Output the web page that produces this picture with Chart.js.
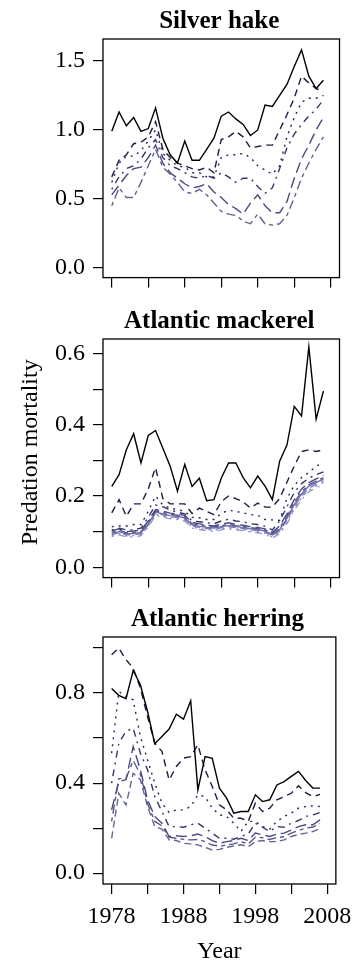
<!DOCTYPE html>
<html lang="en">
<head>
    <meta charset="UTF-8">
    <title>Predation mortality</title>
    <style>
        body {
            margin: 0;
            background-color: #ffffff;
            width: 360px;
            height: 961px;
            position: relative;
            overflow: hidden;
        }
        canvas {
            position: absolute;
            left: 0;
        }
    </style>
</head>
<body>
    <canvas id="hakeChart" width="360" height="300" style="top:0px"></canvas>
    <canvas id="mackChart" width="360" height="300" style="top:300px"></canvas>
    <canvas id="herrChart" width="360" height="363" style="top:598px"></canvas>

    <script src="https://cdn.jsdelivr.net/npm/chart.js"></script>
    <script>
        // Years on the x axis
        var years = [1978, 1979, 1980, 1981, 1982, 1983, 1984, 1985, 1986, 1987,
                     1988, 1989, 1990, 1991, 1992, 1993, 1994, 1995, 1996, 1997,
                     1998, 1999, 2000, 2001, 2002, 2003, 2004, 2005, 2006, 2007];
        var xTicks = [1978, 1983, 1988, 1993, 1998, 2003, 2008];
        var xLabels = [1978, 1988, 1998, 2008];

        // Silver hake
        var hake1 = [0.99, 1.13, 1.03, 1.09, 0.99, 1.01, 1.16, 0.94, 0.82, 0.76, 0.92, 0.78, 0.78, 0.86, 0.94, 1.10, 1.13, 1.08, 1.04, 0.96, 1.00, 1.18, 1.17, 1.25, 1.33, 1.46, 1.58, 1.39, 1.30, 1.36];
        var hake2 = [0.66, 0.78, 0.82, 0.90, 0.91, 0.95, 1.06, 0.86, 0.80, 0.76, 0.74, 0.72, 0.71, 0.73, 0.69, 0.93, 0.95, 0.99, 0.95, 0.87, 0.88, 0.89, 0.89, 1.00, 1.11, 1.23, 1.39, 1.34, 1.30, 1.28];
        var hake3 = [0.62, 0.76, 0.81, 0.81, 0.85, 0.92, 1.00, 0.83, 0.78, 0.74, 0.73, 0.69, 0.69, 0.66, 0.66, 0.80, 0.82, 0.82, 0.83, 0.80, 0.74, 0.71, 0.68, 0.74, 0.95, 1.09, 1.20, 1.23, 1.23, 1.25];
        var hake4 = [0.57, 0.66, 0.72, 0.74, 0.79, 0.87, 0.93, 0.80, 0.74, 0.72, 0.69, 0.66, 0.65, 0.67, 0.65, 0.69, 0.66, 0.62, 0.65, 0.65, 0.59, 0.54, 0.58, 0.72, 0.87, 0.97, 1.04, 1.10, 1.15, 1.22];
        var hake5 = [0.53, 0.60, 0.67, 0.72, 0.73, 0.80, 0.89, 0.76, 0.69, 0.65, 0.61, 0.58, 0.59, 0.61, 0.55, 0.51, 0.46, 0.43, 0.39, 0.47, 0.53, 0.45, 0.40, 0.40, 0.48, 0.65, 0.79, 0.89, 1.00, 1.09];
        var hake6 = [0.45, 0.58, 0.51, 0.51, 0.62, 0.74, 0.86, 0.73, 0.68, 0.62, 0.55, 0.54, 0.57, 0.53, 0.47, 0.41, 0.39, 0.38, 0.34, 0.32, 0.39, 0.32, 0.31, 0.32, 0.38, 0.51, 0.65, 0.76, 0.86, 0.95];

        // Atlantic mackerel
        var mack1 = [0.227, 0.26, 0.33, 0.375, 0.293, 0.37, 0.384, 0.334, 0.284, 0.214, 0.289, 0.227, 0.25, 0.187, 0.19, 0.25, 0.293, 0.293, 0.252, 0.223, 0.256, 0.228, 0.19, 0.298, 0.343, 0.452, 0.425, 0.619, 0.416, 0.495];
        var mack2 = [0.153, 0.19, 0.143, 0.178, 0.178, 0.22, 0.28, 0.193, 0.178, 0.178, 0.178, 0.151, 0.166, 0.157, 0.148, 0.184, 0.20, 0.193, 0.184, 0.166, 0.18, 0.169, 0.169, 0.193, 0.239, 0.284, 0.325, 0.33, 0.325, 0.33];
        var mack3 = [0.114, 0.116, 0.116, 0.12, 0.12, 0.157, 0.20, 0.175, 0.166, 0.162, 0.157, 0.14, 0.139, 0.134, 0.134, 0.151, 0.16, 0.157, 0.153, 0.148, 0.146, 0.134, 0.133, 0.132, 0.193, 0.23, 0.252, 0.266, 0.284, 0.293];
        var mack4 = [0.105, 0.11, 0.105, 0.105, 0.11, 0.14, 0.175, 0.17, 0.16, 0.155, 0.15, 0.13, 0.128, 0.125, 0.122, 0.13, 0.135, 0.13, 0.128, 0.122, 0.12, 0.115, 0.105, 0.13, 0.17, 0.21, 0.235, 0.25, 0.26, 0.268];
        var mack5 = [0.102, 0.108, 0.100, 0.102, 0.104, 0.130, 0.162, 0.158, 0.152, 0.150, 0.146, 0.126, 0.122, 0.118, 0.116, 0.121, 0.125, 0.120, 0.118, 0.114, 0.112, 0.108, 0.098, 0.116, 0.150, 0.190, 0.220, 0.238, 0.248, 0.258];
        var mack6 = [0.098, 0.104, 0.097, 0.098, 0.100, 0.126, 0.158, 0.154, 0.149, 0.146, 0.142, 0.122, 0.119, 0.115, 0.113, 0.117, 0.120, 0.117, 0.115, 0.111, 0.109, 0.105, 0.094, 0.110, 0.143, 0.182, 0.212, 0.232, 0.242, 0.252];
        var mack7 = [0.095, 0.100, 0.094, 0.095, 0.097, 0.122, 0.155, 0.150, 0.145, 0.143, 0.139, 0.119, 0.115, 0.112, 0.110, 0.114, 0.117, 0.114, 0.112, 0.108, 0.106, 0.102, 0.091, 0.106, 0.137, 0.176, 0.206, 0.228, 0.238, 0.248];
        var mack8 = [0.092, 0.097, 0.091, 0.092, 0.094, 0.119, 0.152, 0.147, 0.142, 0.140, 0.136, 0.116, 0.112, 0.109, 0.107, 0.111, 0.114, 0.111, 0.109, 0.105, 0.103, 0.099, 0.088, 0.102, 0.132, 0.170, 0.200, 0.222, 0.233, 0.243];
        var mack9 = [0.089, 0.094, 0.088, 0.089, 0.091, 0.116, 0.149, 0.144, 0.139, 0.137, 0.133, 0.113, 0.109, 0.106, 0.104, 0.108, 0.111, 0.108, 0.106, 0.102, 0.100, 0.096, 0.085, 0.098, 0.127, 0.165, 0.195, 0.217, 0.228, 0.238];
        var mack10 = [0.086, 0.091, 0.085, 0.086, 0.088, 0.113, 0.146, 0.141, 0.136, 0.134, 0.130, 0.110, 0.106, 0.103, 0.101, 0.105, 0.108, 0.105, 0.103, 0.099, 0.097, 0.093, 0.082, 0.094, 0.122, 0.160, 0.190, 0.212, 0.223, 0.232];

        // Atlantic herring
        var herr1 = [0.82, 0.79, 0.775, 0.90, 0.837, 0.718, 0.575, 0.607, 0.64, 0.706, 0.684, 0.766, 0.37, 0.518, 0.51, 0.378, 0.333, 0.267, 0.274, 0.274, 0.348, 0.318, 0.326, 0.392, 0.407, 0.43, 0.452, 0.412, 0.378, 0.378];
        var herr2 = [0.97, 1.0, 0.948, 0.911, 0.822, 0.696, 0.578, 0.541, 0.414, 0.474, 0.511, 0.518, 0.57, 0.459, 0.385, 0.304, 0.281, 0.244, 0.244, 0.23, 0.311, 0.274, 0.289, 0.326, 0.34, 0.355, 0.388, 0.358, 0.34, 0.35];
        var herr3 = [0.533, 0.807, 0.785, 0.77, 0.607, 0.503, 0.40, 0.311, 0.27, 0.281, 0.281, 0.296, 0.348, 0.34, 0.289, 0.259, 0.252, 0.222, 0.185, 0.23, 0.23, 0.207, 0.196, 0.23, 0.252, 0.267, 0.289, 0.296, 0.299, 0.296];
        var herr4 = [0.40, 0.577, 0.63, 0.644, 0.533, 0.459, 0.34, 0.274, 0.207, 0.207, 0.204, 0.215, 0.222, 0.20, 0.178, 0.155, 0.155, 0.151, 0.163, 0.174, 0.222, 0.204, 0.185, 0.207, 0.204, 0.222, 0.234, 0.252, 0.259, 0.27];
        var herr5 = [0.281, 0.407, 0.415, 0.563, 0.459, 0.326, 0.252, 0.222, 0.163, 0.166, 0.163, 0.166, 0.174, 0.163, 0.145, 0.133, 0.14, 0.145, 0.155, 0.145, 0.178, 0.17, 0.163, 0.174, 0.178, 0.192, 0.207, 0.215, 0.215, 0.237];
        var herr6 = [0.23, 0.42, 0.42, 0.50, 0.44, 0.31, 0.23, 0.21, 0.16, 0.155, 0.15, 0.148, 0.15, 0.14, 0.125, 0.12, 0.125, 0.13, 0.14, 0.13, 0.16, 0.158, 0.15, 0.158, 0.162, 0.178, 0.19, 0.20, 0.205, 0.22];
        var herr7 = [0.155, 0.355, 0.303, 0.444, 0.415, 0.296, 0.207, 0.196, 0.148, 0.145, 0.133, 0.13, 0.126, 0.115, 0.103, 0.106, 0.115, 0.121, 0.126, 0.118, 0.14, 0.145, 0.14, 0.14, 0.148, 0.163, 0.172, 0.178, 0.185, 0.198];

        // Line types (R lty cycle: solid, dashed, dotted, dotdash, longdash, twodash)
        var dashes = [[], [7, 5], [2, 5], [2, 5, 7, 5], [11, 5], [4, 4, 9, 4], [], [7, 5], [2, 5], [2, 5, 7, 5]];
        var herrDashes = [[], [7, 5], [2, 5], [2, 5, 7, 5], [11, 5], [4, 4, 9, 4], [7, 4]];

        Chart.defaults.font.family = "'Liberation Serif', 'Times New Roman', serif";
        Chart.defaults.font.size = 24;
        Chart.defaults.color = '#000000';

        // Box, panel title and axis titles
        var panelText = {
            id: 'panelText',
            afterDraw: function(chart, args, opts) {
                var ctx = chart.ctx;
                var a = chart.chartArea;
                ctx.save();
                ctx.strokeStyle = '#000000';
                ctx.lineWidth = 1.3;
                ctx.strokeRect(a.left, a.top, a.right - a.left, a.bottom - a.top);
                ctx.fillStyle = '#000000';
                ctx.font = "bold 25px 'Liberation Serif', serif";
                ctx.textAlign = 'center';
                ctx.textBaseline = 'alphabetic';
                ctx.fillText(opts.title, (a.left + a.right) / 2 - 2, a.top - 11);
                ctx.font = "24px 'Liberation Serif', serif";
                if (opts.yTitle) {
                    ctx.save();
                    ctx.translate(31, (a.top + a.bottom) / 2 - 6);
                    ctx.rotate(-Math.PI / 2);
                    ctx.textBaseline = 'middle';
                    ctx.fillText(opts.yTitle, 0, 0);
                    ctx.restore();
                }
                if (opts.xTitle) {
                    ctx.fillText(opts.xTitle, (a.left + a.right) / 2, chart.height - 3);
                }
                ctx.restore();
            }
        };

        // dark navy steps; lighter ones are added per panel
        function makeColors(n, last) {
            var base = ['#000000', '#1b1b45', '#25255c', '#35356c', '#4a4a80'];
            return base.concat(last).slice(0, n);
        }

        function makePanel(id, title, series, colors, lineDash, yMin, yMax, yTicks, yShown, showX, yTitle, xTitle) {
            var datasets = series.map(function(s, i) {
                return {
                    data: years.map(function(y, j) { return { x: y, y: s[j] }; }),
                    borderColor: colors[i],
                    borderWidth: 1.4,
                    borderDash: lineDash[i],
                    pointRadius: 0,
                    tension: 0,
                    fill: false
                };
            });
            var canvas = document.getElementById(id);
            return new Chart(canvas.getContext('2d'), {
                type: 'line',
                data: { datasets: datasets },
                plugins: [panelText],
                options: {
                    responsive: false,
                    animation: false,
                    layout: { padding: { top: 39, left: 0, right: 20.5, bottom: 0 } },
                    plugins: {
                        legend: { display: false },
                        tooltip: { enabled: false },
                        panelText: { title: title, yTitle: yTitle, xTitle: xTitle }
                    },
                    scales: {
                        x: {
                            type: 'linear',
                            min: 1976.8,
                            max: 2009.2,
                            afterBuildTicks: function(scale) {
                                scale.ticks = xTicks.map(function(v) { return { value: v }; });
                            },
                            afterFit: function(scale) {
                                scale.height = canvas.height - 39 - 247;
                            },
                            grid: { drawOnChartArea: false, drawTicks: true, tickLength: 10, color: '#000000', lineWidth: 1.2 },
                            border: { display: false },
                            ticks: {
                                autoSkip: false,
                                maxRotation: 0,
                                padding: 8,
                                callback: function(value) {
                                    if (showX && xLabels.indexOf(value) >= 0) {
                                        return String(value);
                                    }
                                    return '';
                                }
                            }
                        },
                        y: {
                            min: yMin,
                            max: yMax,
                            afterBuildTicks: function(scale) {
                                scale.ticks = yTicks.map(function(v) { return { value: v }; });
                            },
                            afterFit: function(scale) {
                                scale.width = 103;
                            },
                            grid: { drawOnChartArea: false, drawTicks: true, tickLength: 10, color: '#000000', lineWidth: 1.2 },
                            border: { display: false },
                            ticks: {
                                autoSkip: false,
                                padding: 8,
                                callback: function(value) {
                                    for (var k = 0; k < yShown.length; k++) {
                                        if (Math.abs(yShown[k] - value) < 1e-6) {
                                            return value.toFixed(1);
                                        }
                                    }
                                    return '';
                                }
                            }
                        }
                    }
                }
            });
        }

        makePanel('hakeChart', 'Silver hake',
            [hake1, hake2, hake3, hake4, hake5, hake6],
            makeColors(6, ['#62628f']), dashes,
            -0.070, 1.659, [0, 0.5, 1.0, 1.5], [0, 0.5, 1.0, 1.5], false, null, null);

        makePanel('mackChart', 'Atlantic mackerel',
            [mack1, mack2, mack3, mack4, mack5, mack6, mack7, mack8, mack9, mack10],
            makeColors(10, ['#5c5c96', '#6e6eaa', '#7c7cba', '#8a8ac8', '#9898d6']), dashes,
            -0.029, 0.641, [0, 0.1, 0.2, 0.3, 0.4, 0.5, 0.6], [0, 0.2, 0.4, 0.6], false, 'Predation mortality', null);

        makePanel('herrChart', 'Atlantic herring',
            [herr1, herr2, herr3, herr4, herr5, herr6, herr7],
            makeColors(7, ['#585888', '#666696']), herrDashes,
            -0.048, 1.049, [0, 0.2, 0.4, 0.6, 0.8, 1.0], [0, 0.4, 0.8], true, null, 'Year');
    </script>
</body>
</html>
